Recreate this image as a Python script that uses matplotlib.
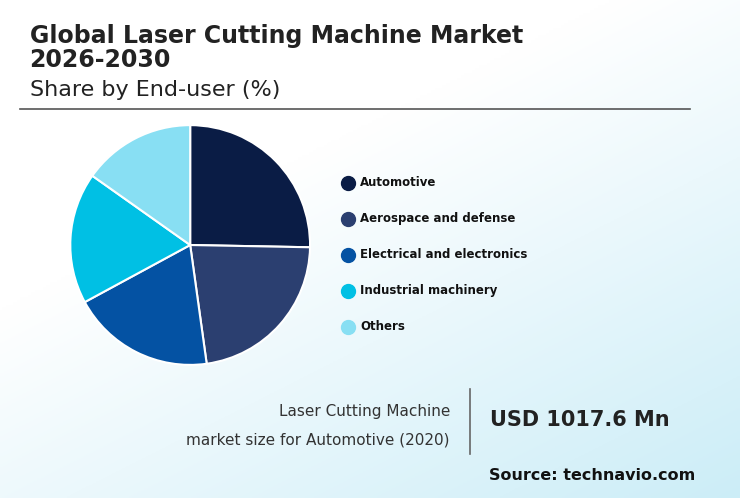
import matplotlib
matplotlib.use("Agg")
import matplotlib.pyplot as plt
import numpy as np
from matplotlib.lines import Line2D

categories = ["Automotive", "Aerospace and defense", "Electrical and electronics",
              "Industrial machinery", "Others"]
shares = [25.3, 22.5, 19.3, 17.7, 15.2]
colors = ["#0a1c45", "#2b3f70", "#0452a3", "#00c0e4", "#88dff3"]

fig = plt.figure(figsize=(7.4, 4.98), dpi=100)
bg = fig.add_axes([0, 0, 1, 1], zorder=-10)
x = np.linspace(0, 1, 200)
y = np.linspace(0, 1, 200)
X, Y = np.meshgrid(x, y)
t = np.clip((X * 0.6 + (1 - Y) * 0.8 - 0.5) / 0.9, 0, 1)
c0 = np.array([1, 1, 1]); c1 = np.array([0.80, 0.93, 0.97])
img = c0 + (c1 - c0) * t[..., None]
bg.imshow(img, extent=[0, 1, 0, 1], aspect="auto", origin="lower")
bg.axis("off")

fig.text(0.04, 0.855, "Global Laser Cutting Machine Market\n2026-2030", fontsize=17,
         fontweight="bold", color="#222222", va="bottom", linespacing=1.0)
fig.text(0.04, 0.80, "Share by End-user (%)", fontsize=16, color="#222222", va="bottom")
fig.add_artist(Line2D([0.027, 0.932], [0.781, 0.781], color="#555555", lw=1.2))

ax = fig.add_axes([0.095, 0.267, 0.324, 0.482])
ax.pie(shares, colors=colors, startangle=90, counterclock=False,
       wedgeprops=dict(edgecolor="white", linewidth=1.5))
ax.set_xlim(-1, 1); ax.set_ylim(-1, 1)
ax.set_aspect("equal")

ys = [0.633, 0.561, 0.488, 0.416, 0.344]
for cat, col, yy in zip(categories, colors, ys):
    fig.add_artist(Line2D([0.470], [yy], marker="o", markersize=10, color=col, lw=0))
    fig.text(0.487, yy, cat, fontsize=8.5, fontweight="bold", va="center", color="#111111")

fig.text(0.608, 0.165, "Laser Cutting Machine", ha="right", fontsize=11, color="#333333")
fig.text(0.608, 0.108, "market size for Automotive (2020)", ha="right", fontsize=11, color="#333333")
fig.add_artist(Line2D([0.635, 0.635], [0.088, 0.218], color="#666666", lw=1.2))
fig.text(0.662, 0.157, "USD 1017.6 Mn", fontsize=15, fontweight="bold", color="#222222", va="center")
fig.text(0.94, 0.037, "Source: technavio.com", fontsize=11.5, fontweight="bold",
         ha="right", color="#111111")

fig.savefig("out.png", dpi=100)
